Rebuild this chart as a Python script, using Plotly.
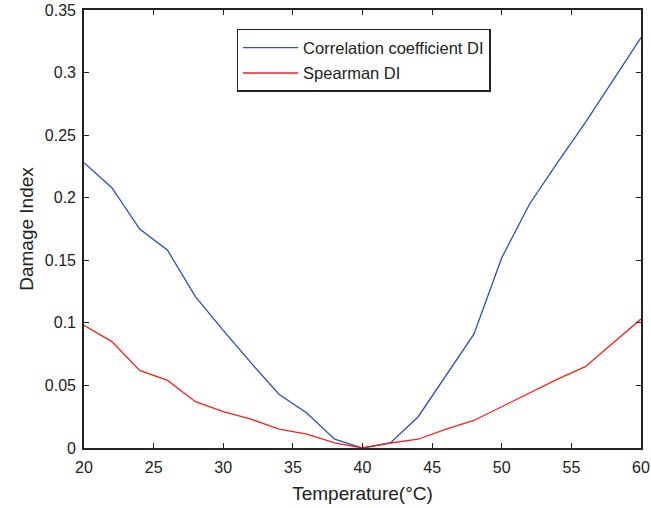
import plotly.graph_objects as go

temperature = [20, 22, 24, 26, 28, 30, 32, 34, 36, 38, 40, 42, 44, 46, 48, 50, 52, 54, 56, 58, 60]
corr_di = [0.228, 0.208, 0.175, 0.158, 0.121, 0.094, 0.068, 0.043, 0.028, 0.007, 0.0,
           0.004, 0.025, 0.058, 0.091, 0.152, 0.195, 0.228, 0.260, 0.294, 0.328]
spear_di = [0.098, 0.085, 0.062, 0.054, 0.037, 0.029, 0.023, 0.015, 0.011, 0.004, 0.0,
            0.004, 0.007, 0.015, 0.022, 0.033, 0.044, 0.055, 0.065, 0.084, 0.103]

xticks = [20, 25, 30, 35, 40, 45, 50, 55, 60]
yticks = [0, 0.05, 0.1, 0.15, 0.2, 0.25, 0.3, 0.35]
ytick_labels = ["0", "0.05", "0.1", "0.15", "0.2", "0.25", "0.3", "0.35"]

FONT = "Liberation Sans, Arial, Helvetica"

fig = go.Figure()
fig.add_trace(go.Scatter(x=temperature, y=corr_di, mode="lines", name="Correlation coefficient DI",
                         legendgroup="a", line=dict(color="#2E4FAE", width=1.3)))
fig.add_trace(go.Scatter(x=temperature, y=spear_di, mode="lines", name="Spearman DI",
                         legendgroup="b", line=dict(color="#F02222", width=1.3)))

axis_common = dict(showline=True, linecolor="#222", linewidth=1.6, mirror="ticks",
                   ticks="inside", ticklen=5, tickcolor="#222", tickwidth=1.2,
                   showgrid=False, zeroline=False, automargin=False,
                   tickfont=dict(family=FONT, size=16, color="#222"))

fig.update_layout(
    width=651, height=508,
    margin=dict(l=84, r=10, t=10, b=60),
    plot_bgcolor="white", paper_bgcolor="white",
    font=dict(family=FONT, color="#222"),
    xaxis=dict(range=[20, 60], tickvals=xticks, ticklabelstandoff=4,
               title=dict(text="Temperature(°C)", font=dict(size=19), standoff=12),
               **axis_common),
    yaxis=dict(range=[0, 0.35], tickvals=yticks, ticktext=ytick_labels, ticklabelstandoff=3,
               title=dict(text="Damage Index", font=dict(size=19), standoff=6),
               **axis_common),
    legend=dict(x=0.274, y=0.957, xanchor="left", yanchor="top",
                bordercolor="#222", borderwidth=1.5, bgcolor="white",
                font=dict(family=FONT, size=16.5, color="#222"),
                itemwidth=55, tracegroupgap=1),
    showlegend=True,
)

fig.write_html("out.html", config={"displayModeBar": False},
               post_script="document.body.style.margin='0';")
